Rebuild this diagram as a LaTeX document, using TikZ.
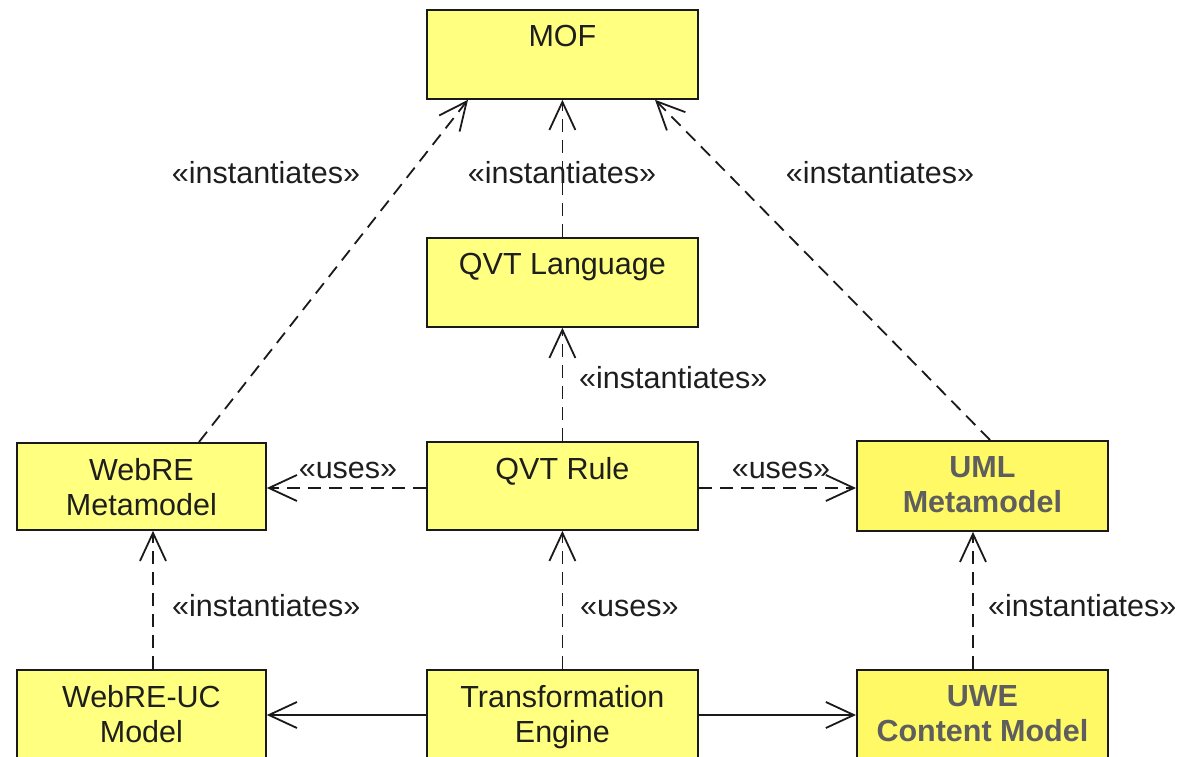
\documentclass[tikz,border=0pt]{standalone}
\usepackage{fontspec}
\setmainfont{Liberation Sans}
\usetikzlibrary{arrows.meta,calc}

\definecolor{boxfill}{HTML}{FFFF80}
\definecolor{umlfill}{HTML}{FFF966}
\definecolor{edgeline}{HTML}{1A1A1A}
\definecolor{labeltext}{HTML}{1E1E1E}
\definecolor{boldtext}{HTML}{5E5E5E}

\begin{document}
\begin{tikzpicture}[x=1pt,y=-1pt,
  classbox/.style={draw=edgeline, line width=1.8pt, fill=boxfill, inner sep=0pt,
    anchor=north west, minimum width=#1},
  classbox/.default=271pt,
  boxname/.style={anchor=north, inner sep=0pt, align=center, text=labeltext,
    font=\fontsize{30.5}{35}\selectfont},
  boldname/.style={boxname, text=boldtext, font=\fontsize{30.5}{35}\selectfont\bfseries},
  stereo/.style={inner sep=0pt, anchor=base, text=labeltext,
    font=\fontsize{30.5}{35}\selectfont},
  dep/.style={draw=edgeline, line width=1.8pt, dash pattern=on 13pt off 8pt,
    -{Straight Barb[length=28pt,width=26pt,line width=1.8pt]}},
  assoc/.style={draw=edgeline, line width=1.8pt,
    -{Straight Barb[length=28pt,width=26pt,line width=1.8pt]}},
]
\useasboundingbox (0,0) rectangle (1184,756);
\clip (0,0) rectangle (1184,756);

% class boxes
\node[classbox, minimum height=89pt] (mof) at (426,9) {};
\node[classbox, minimum height=89pt] (qvtlang) at (426,237) {};
\node[classbox, minimum height=88pt] (qvtrule) at (426,441) {};
\node[classbox=249pt, minimum height=87pt] (webre) at (16,442) {};
\node[classbox=251pt, minimum height=90pt, fill=umlfill] (uml) at (856,440) {};
\node[classbox=249pt, minimum height=110pt] (webreuc) at (16,669) {};
\node[classbox, minimum height=110pt] (engine) at (426,669) {};
\node[classbox=251pt, minimum height=110pt, fill=umlfill] (uwe) at (856,669) {};

% box names
\node[boxname] (mof-t) at ($(mof.north)+(0,16)$) {MOF};
\node[boxname] (qvtlang-t) at ($(qvtlang.north)+(0,16)$) {QVT Language};
\node[boxname] (qvtrule-t) at ($(qvtrule.north)+(0,16)$) {QVT Rule};
\node[boxname] (webre-t) at ($(webre.north)+(0,16)$) {WebRE\\Metamodel};
\node[boldname] (uml-t) at ($(uml.north)+(0,16)$) {UML\\Metamodel};
\node[boxname] (webreuc-t) at ($(webreuc.north)+(0,16)$) {WebRE-UC\\Model};
\node[boxname] (engine-t) at ($(engine.north)+(0,16)$) {Transformation\\Engine};
\node[boldname] (uwe-t) at ($(uwe.north)+(0,16)$) {UWE\\Content Model};

% dependencies
\draw[dep] ($(webre.north west)+(183,0)$) -- ($(mof.south west)+(42,0)$);
\draw[dep] (qvtlang.north) -- (mof.south);
\draw[dep] ($(uml.north west)+(134,0)$) -- ($(mof.south west)+(229,0)$);
\draw[dep] (qvtrule.north) -- (qvtlang.south);
\draw[dep] ($(qvtrule.north west)+(0,47)$) coordinate (ruleW) -- (ruleW -| webre.east);
\draw[dep] ($(qvtrule.north east)+(0,47)$) coordinate (ruleE) -- (ruleE -| uml.west);
\draw[dep] ($(webreuc.north west)+(137,0)$) coordinate (ucN) -- (ucN |- webre.south);
\draw[dep] (engine.north) -- (qvtrule.south);
\draw[dep] ($(uwe.north west)+(117,0)$) coordinate (uweN) -- (uweN |- uml.south);

% associations
\draw[assoc] ($(engine.north west)+(0,46)$) coordinate (engW) -- (engW -| webreuc.east);
\draw[assoc] ($(engine.north east)+(0,46)$) coordinate (engE) -- (engE -| uwe.west);

% stereotype labels
\node[stereo] (s1) at (266,183) {«instantiates»};
\node[stereo] (s2) at (562,183) {«instantiates»};
\node[stereo] (s3) at (880,183) {«instantiates»};
\node[stereo, anchor=base west] (s4) at (579,388) {«instantiates»};
\node[stereo] (s5) at (348,478) {«uses»};
\node[stereo] (s6) at (781,478) {«uses»};
\node[stereo, anchor=base west] (s7) at (172,616) {«instantiates»};
\node[stereo, anchor=base west] (s8) at (580,616) {«uses»};
\node[stereo, anchor=base west] (s9) at (988,616) {«instantiates»};
\end{tikzpicture}
\end{document}
